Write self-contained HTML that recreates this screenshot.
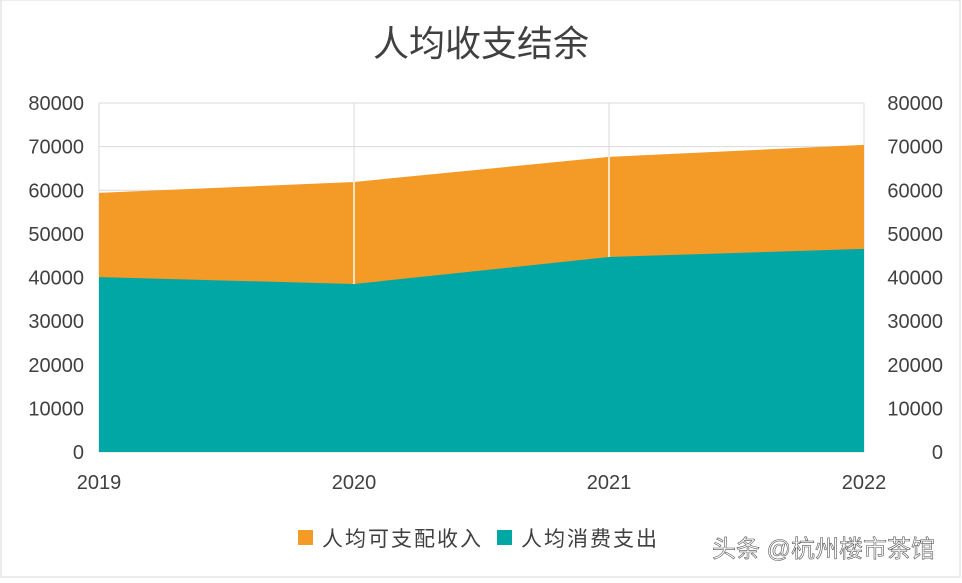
<!DOCTYPE html>
<html><head><meta charset="utf-8"><style>
body{margin:0;background:#fff;width:962px;height:578px;overflow:hidden;font-family:"Liberation Sans","Noto Sans CJK SC",sans-serif}
svg text{font-family:"Liberation Sans","Noto Sans CJK SC",sans-serif}
</style></head><body>
<svg id="c" width="962" height="578">
<rect x="1" y="0" width="959" height="577" fill="#fff" stroke="#d8d8d8"/>
<text x="481" y="56" text-anchor="middle" font-size="36" fill="#404040">人均收支结余</text>
<g id="grid"></g><g id="areas"></g><g id="vgrid"></g><g id="axes"></g>
<g>
<rect x="298" y="530" width="15" height="15" fill="#f39a27"/>
<text x="322" y="546" font-size="21" letter-spacing="2" fill="#404040">人均可支配收入</text>
<rect x="497" y="530" width="15" height="15" fill="#00a7a4"/>
<text x="521" y="546" font-size="21" letter-spacing="2" fill="#404040">人均消费支出</text>
</g>
<text x="712" y="557" font-size="24" fill="#fff" stroke="#555" stroke-width="0.6">头条 @杭州楼市茶馆</text>
</svg>
<script>
const years=["2019","2020","2021","2022"];
const income=[59400,61900,67650,70400];
const consumption=[40100,38500,44700,46550];
const ticks=[0,10000,20000,30000,40000,50000,60000,70000,80000];
const ns="http://www.w3.org/2000/svg";
const L=99,R=864,T=103,B=452;
const x=i=>L+(R-L)*i/(years.length-1);
const y=v=>B-(B-T)*v/80000;
function mk(t,a,p){const e=document.createElementNS(ns,t);for(const k in a)e.setAttribute(k,a[k]);document.getElementById(p).appendChild(e);return e;}
ticks.forEach(t=>{
 const g=mk('line',{x1:L,x2:R,y1:y(t),y2:y(t),stroke:'#d9d9d9'},'grid');
 
 
 const a=mk('text',{x:84,y:y(t)+7,'text-anchor':'end','font-size':20,fill:'#404040'},'axes');a.textContent=t;
 
 
 const b=mk('text',{x:943,y:y(t)+7,'text-anchor':'end','font-size':20,fill:'#404040'},'axes');b.textContent=t;
 
 
});
years.forEach((yr,i)=>{
 const g=mk('line',{x1:x(i),x2:x(i),y1:T,y2:B,stroke:'#d9d9d9'},'grid');
 
 
 const t=mk('text',{x:x(i),y:489,'text-anchor':'middle','font-size':20,fill:'#404040'},'axes');t.textContent=yr;
 
 
});
function area(vals,col,name){
 let d='M'+x(0)+','+B;vals.forEach((v,i)=>d+=' L'+x(i)+','+y(v));d+=' L'+x(vals.length-1)+','+B+' Z';
 const p=mk('path',{d:d,fill:col},'areas');
 
 
}
area(income,'#f39a27','area-income');
area(consumption,'#00a7a4','area-consumption');
for(let i=1;i<years.length-1;i++){
 const l=mk('line',{x1:x(i),x2:x(i),y1:y(income[i]),y2:y(consumption[i]),stroke:'#fbe3c0','stroke-width':2},'vgrid');
 
 
}
</script>
</body></html>
